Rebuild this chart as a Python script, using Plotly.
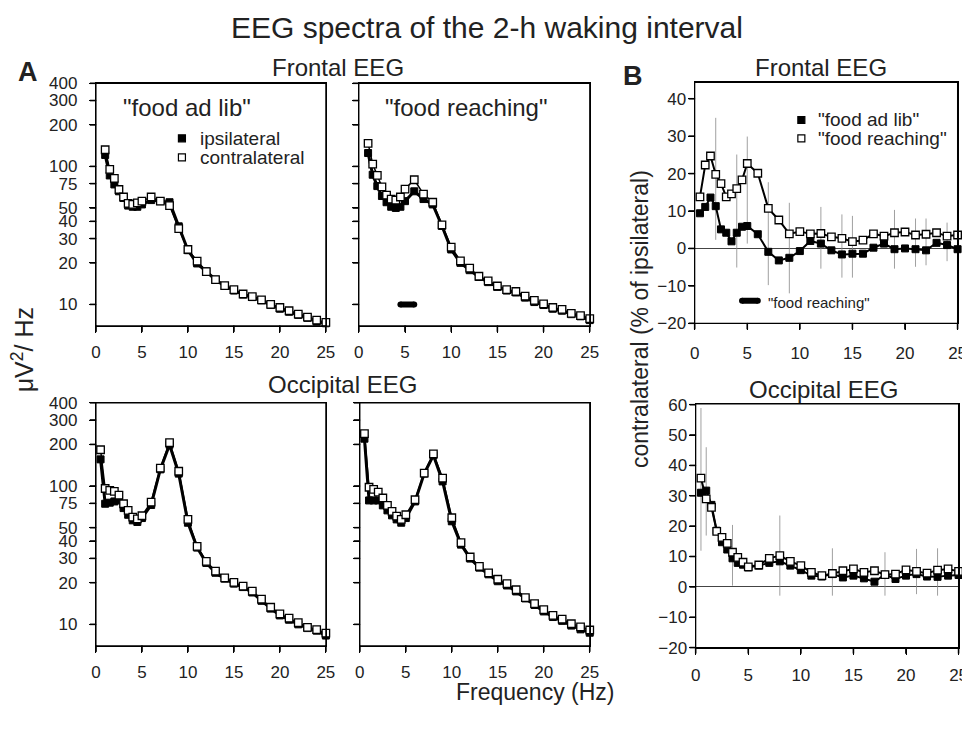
import math
import plotly.graph_objects as go

# ---- data -----------------------------------------------------------------
freq_front = [1, 1.5, 2, 2.5, 3, 3.5, 4, 4.5, 5] + list(range(6, 26))
freq = [0.5, 1, 1.5, 2, 2.5, 3, 3.5, 4, 4.5, 5] + list(range(6, 26))

# panel A, frontal, "food ad lib" (uV^2/Hz)
front_adlib_ipsi = [121, 86, 74, 66, 59, 52, 51, 51, 53, 57, 56, 55, 36.8, 24.7, 19.8, 17.4,
                    15.1, 13.6, 12.6, 11.8, 11.3, 10.7, 9.9, 9.3, 8.85, 8.4, 8.0, 7.5, 7.3]
front_adlib_contra = [132, 95, 82, 68, 60, 54, 53, 54.5, 56, 60, 56, 52, 35.4, 25, 20.6, 17.3,
                      15.1, 13.7, 12.8, 11.9, 11.4, 10.8, 10, 9.5, 9.0, 8.5, 8.1, 7.7, 7.4]
# panel A, frontal, "food reaching"
front_reach_ipsi = [125, 87, 72, 61, 55, 51, 50, 51, 56, 66, 58, 53, 37, 25, 20, 17.7,
                    15.8, 14.5, 13.4, 12.6, 12.2, 11.2, 10.4, 9.9, 9.3, 9.0, 8.5, 8.2, 7.7]
front_reach_contra = [147, 104, 86, 71, 62, 58, 57, 60, 68.5, 80, 63, 55, 37.7, 26, 20.7, 18.3,
                      16, 14.8, 13.6, 12.8, 12.4, 11.5, 10.7, 10.1, 9.5, 9.2, 8.6, 8.3, 7.9]
# panel A, occipital
occ_adlib_ipsi = [156, 74.5, 75.8, 77.4, 78.8, 69.3, 62, 56.5, 55, 58.7, 73, 132, 199, 123, 54.3,
                  35.9, 27.8, 23.6, 21.4, 19.7, 18.6, 17, 14.8, 13, 11.6, 10.8, 10, 9.4, 9.0, 8.3]
occ_adlib_contra = [183, 96, 93, 91.5, 86, 74.5, 66.7, 59.7, 58, 61, 76.6, 135, 206, 128, 57.4,
                    36.6, 28.5, 24.3, 21.7, 20.1, 18.9, 17.4, 15.2, 13.3, 11.9, 11.1, 10.3, 9.5, 9.15, 8.65]
occ_reach_ipsi = [220, 78.7, 78.7, 78.7, 72.5, 66.7, 61.4, 57.4, 54.3, 58.7, 77.4, 123, 167, 108, 55.6,
                  37.7, 29.9, 25.7, 23, 20.5, 19.1, 17.3, 15.4, 13.8, 12.4, 11.3, 10.6, 9.8, 9.2, 8.7]
occ_reach_contra = [239, 98, 94.6, 90.5, 82, 72.5, 65.6, 60.7, 57.4, 62, 79.6, 124, 171, 114, 59,
                    39, 30.7, 26.3, 23.6, 21.2, 19.7, 17.8, 15.6, 14.1, 12.8, 11.6, 10.9, 10.1, 9.6, 9.1]

# panel B, contralateral as % of ipsilateral
pct_front_adlib = [9.4, 11.1, 13.6, 11.3, 5.1, 4.2, 1.9, 4.2, 5.8, 6.0, 3.8, -0.9, -3.2, -2.5, -0.7,
                   2.0, 1.3, -0.5, -1.6, -1.4, -1.4, 0.2, 1.3, -0.2, 0.0, -0.2, -0.5, 1.5, 0.9, -0.2]
pct_front_reach = [13.8, 22.3, 24.7, 19.8, 17.3, 13.8, 14.6, 16, 18.3, 22.7, 20.1, 10.7, 7.6, 3.9, 4.5,
                   3.9, 4.0, 3.1, 2.7, 1.8, 2.2, 3.9, 3.3, 4.2, 4.4, 3.6, 3.8, 4.2, 3.3, 3.6]
pct_occ_adlib = [31, 31.7, 27, 18.5, 14.7, 12.3, 9.4, 7.9, 7.3, 6.4, 7, 7.9, 8.4, 7, 5.5,
                 3.7, 3.4, 4.2, 3.1, 3.7, 2.8, 1.7, 4.0, 2.6, 3.7, 4.2, 3.4, 3.3, 3.7, 3.9]
pct_occ_reach = [35.8, 29, 26.2, 18.3, 16.3, 14.3, 11.4, 9.7, 8.1, 6.6, 7.2, 9.4, 10.3, 8.4, 7,
                 4.8, 3.7, 4.4, 5.3, 5.9, 4.8, 5.3, 4.0, 4.2, 5.6, 5.1, 4.5, 5.5, 5.9, 5.1]

# variability bars in panel B
err_front_x = [2, 4, 5, 7, 9, 12, 14, 15, 19, 21, 22, 24]
err_front_hi = [34.9, 25.1, 29.9, 17.7, 12.2, 11.1, 9.1, 8.7, 10.3, 8.0, 8.0, 6.9]
err_front_lo = [2.3, -5.1, 1.3, -9.8, -12.0, -5.4, -7.8, -7.8, -5.4, -4.9, -4.5, -3.4]
err_occ_x = [0.5, 1, 3.5, 8, 13, 18, 21, 23]
err_occ_hi = [58.9, 46, 20.4, 23.5, 12.7, 11.4, 12.5, 12.7]
err_occ_lo = [11.9, 16.9, 0.4, -2.9, -2.9, -2.9, -2.4, -2.9]

# significant band ("food reaching")
sig_band = [4.5, 6.0]
sig_level_A = 10
sig_level_B = -14

log_ticks = [10, 20, 30, 40, 50, 75, 100, 200, 300, 400]
freq_ticks = [0, 5, 10, 15, 20, 25]
pct_ticks_front = [-20, -10, 0, 10, 20, 30, 40]
pct_ticks_occ = [-20, -10, 0, 10, 20, 30, 40, 50, 60]

# ---- layout helpers -------------------------------------------------------
W, H = 970, 730
# where the page lands in the photo: offset and scale
OX, OY, SX, SY = 13, 17.7, 0.986, 0.974
FONT = "Liberation Sans, Arial, sans-serif"
INK = "#222"

LOG_RANGE = [math.log10(7), math.log10(400)]
FRONT_RANGE = [-20, 44.4]
OCC_RANGE = [-20, 60.3]


def fx(px):
    return (px - OX) / SX / W


def fy(py):
    return 1 - (py - OY) / SY / H


# plot boxes in picture pixels: left, right, top, bottom
BOX = {
    1: (96, 326, 84, 326.5),
    2: (359, 590, 84, 326.5),
    3: (695, 958, 83, 324),
    4: (96, 326, 403.5, 646.5),
    5: (360, 590, 403.5, 646.5),
    6: (696, 959, 404.5, 648.3),
}


def ref(n):
    return ("x", "y") if n == 1 else ("x%d" % n, "y%d" % n)


fig = go.Figure()


def add_pair(n, x, y_fill, y_open, lw_fill, lw_open):
    xa, ya = ref(n)
    fig.add_trace(go.Scatter(x=x, y=y_fill, mode="lines", xaxis=xa, yaxis=ya,
                             line=dict(color="black", width=lw_fill), hoverinfo="skip"))
    fig.add_trace(go.Scatter(x=x, y=y_fill, mode="markers", xaxis=xa, yaxis=ya,
                             cliponaxis=False,
                             marker=dict(symbol="square", size=7, color="black",
                                         line=dict(color="black", width=1))))
    fig.add_trace(go.Scatter(x=x, y=y_open, mode="lines", xaxis=xa, yaxis=ya,
                             line=dict(color="black", width=lw_open), hoverinfo="skip"))
    fig.add_trace(go.Scatter(x=x, y=y_open, mode="markers", xaxis=xa, yaxis=ya,
                             cliponaxis=False,
                             marker=dict(symbol="square", size=7.5, color="white",
                                         line=dict(color="black", width=1.3))))


def add_err(n, xs, hi, lo):
    ex, ey = [], []
    for x, h, l in zip(xs, hi, lo):
        ex += [x, x, None]
        ey += [l, h, None]
    xa, ya = ref(n)
    fig.add_trace(go.Scatter(x=ex, y=ey, mode="lines", xaxis=xa, yaxis=ya,
                             line=dict(color="#888", width=0.8), hoverinfo="skip"))


def add_sig(n, level):
    xa, ya = ref(n)
    fig.add_trace(go.Scatter(x=sig_band, y=[level, level], mode="lines+markers",
                             xaxis=xa, yaxis=ya, line=dict(color="black", width=6),
                             marker=dict(symbol="circle", size=6, color="black"),
                             hoverinfo="skip"))


# panel A
add_pair(1, freq_front, front_adlib_ipsi, front_adlib_contra, 3, 1.5)
add_pair(2, freq_front, front_reach_ipsi, front_reach_contra, 3, 1.5)
add_sig(2, sig_level_A)
add_pair(4, freq, occ_adlib_ipsi, occ_adlib_contra, 3, 1.5)
add_pair(5, freq, occ_reach_ipsi, occ_reach_contra, 3, 1.5)

# panel B
add_err(3, err_front_x, err_front_hi, err_front_lo)
add_pair(3, freq, pct_front_adlib, pct_front_reach, 2, 2)
add_sig(3, sig_level_B)
add_err(6, err_occ_x, err_occ_hi, err_occ_lo)
add_pair(6, freq, pct_occ_adlib, pct_occ_reach, 2, 2)

tickfont = dict(family=FONT, size=17, color=INK)


def axis(n, kind, **kw):
    l, r, t, b = BOX[n]
    d = dict(ticks="outside", ticklen=6, tickcolor="black", showline=True, mirror=True,
             linecolor="black", linewidth=1.2, showgrid=False, zeroline=False,
             tickfont=tickfont)
    if kind == "x":
        d.update(domain=[fx(l), fx(r)], anchor=ref(n)[1], range=[0, 25], tickvals=freq_ticks)
    else:
        d.update(domain=[fy(b), fy(t)], anchor=ref(n)[0])
    d.update(kw)
    return d


def logy(n, labels=True):
    return axis(n, "y", type="log", range=LOG_RANGE, tickvals=log_ticks,
                ticktext=[str(t) for t in log_ticks], showticklabels=labels,
                ticklabelstandoff=8)


def pcty(n, rng, vals):
    return axis(n, "y", range=rng, tickvals=vals, zeroline=True, zerolinecolor="#444",
                zerolinewidth=1, ticklabelstandoff=-2)


fig.update_layout(
    width=W, height=H,
    margin=dict(l=0, r=0, t=0, b=0),
    paper_bgcolor="white", plot_bgcolor="white",
    font=dict(family=FONT, color=INK),
    showlegend=False,
    xaxis=axis(1, "x", ticklabelstandoff=5), yaxis=logy(1),
    xaxis2=axis(2, "x", ticklabelstandoff=5), yaxis2=logy(2, labels=False),
    xaxis3=axis(3, "x", ticklabelstandoff=8),
    yaxis3=pcty(3, FRONT_RANGE, pct_ticks_front),
    xaxis4=axis(4, "x", ticklabelstandoff=5), yaxis4=logy(4),
    xaxis5=axis(5, "x", ticklabelstandoff=5), yaxis5=logy(5, labels=False),
    xaxis6=axis(6, "x", ticklabelstandoff=6),
    yaxis6=pcty(6, OCC_RANGE, pct_ticks_occ),
)

# frames and tick marks, drawn on the paper
LINE = dict(color="black", width=1.2)
TICK = dict(color="black", width=1)


def box(x0, y0, x1, y1, fill=None, line=None):
    fig.add_shape(type="rect", xref="paper", yref="paper",
                  x0=fx(x0), y0=fy(y1), x1=fx(x1), y1=fy(y0),
                  fillcolor=fill, line=line)


for n, yvals, yrange, ylog in [(1, log_ticks, LOG_RANGE, True), (2, log_ticks, LOG_RANGE, True),
                               (3, pct_ticks_front, FRONT_RANGE, False),
                               (4, log_ticks, LOG_RANGE, True), (5, log_ticks, LOG_RANGE, True),
                               (6, pct_ticks_occ, OCC_RANGE, False)]:
    l, r, t, b = BOX[n]
    box(l, t, r, b, line=LINE)
    for v in freq_ticks:
        xp = l + (r - l) * v / 25
        box(xp - 0.3, b, xp + 0.3, b + 6, fill="black", line=TICK)
    for v in yvals:
        u = math.log10(v) if ylog else v
        yp = b - (b - t) * (u - yrange[0]) / (yrange[1] - yrange[0])
        box(l - 6, yp - 0.3, l, yp + 0.3, fill="black", line=TICK)

# legend keys
for cx, cy, fill in [(182, 139, "black"), (182, 158, "white"),
                     (801.7, 120.7, "black"), (801.7, 139, "white")]:
    box(cx - 3.5, cy - 3.5, cx + 3.5, cy + 3.5, fill=fill,
        line=dict(color="black", width=1.2))


def note(text, x, y, size, bold=False, angle=0, xanchor="center"):
    fig.add_annotation(text="<b>%s</b>" % text if bold else text, x=fx(x), y=fy(y),
                       xref="paper", yref="paper", showarrow=False, textangle=angle,
                       xanchor=xanchor, yanchor="middle",
                       font=dict(family=FONT, size=size, color=INK))


note("EEG spectra of the 2-h waking interval", 487, 28, 30)
note("Frontal EEG", 338, 68, 24)
note("Frontal EEG", 821, 68, 24)
note("Occipital EEG", 343, 385, 24)
note("Occipital EEG", 824, 390, 24)
note("A", 28, 73, 27, bold=True)
note("B", 633, 77, 27, bold=True)
note('"food ad lib"', 187, 108, 24)
note('"food reaching"', 466, 108, 24)
note("ipsilateral", 198, 139, 19, xanchor="left")
note("contralateral", 198, 158, 19, xanchor="left")
note('"food ad lib"', 816.7, 120.7, 19, xanchor="left")
note('"food reaching"', 816.7, 139, 19, xanchor="left")
note('"food reaching"', 766.7, 303, 15, xanchor="left")
note("\u03bcV<sup>2</sup>/ Hz", 23, 350, 25, angle=-90)
note("contralateral (% of ipsilateral)", 641, 320, 23, angle=-90)
note("Frequency (Hz)", 535, 693, 23)

fig.write_html("out.html")
